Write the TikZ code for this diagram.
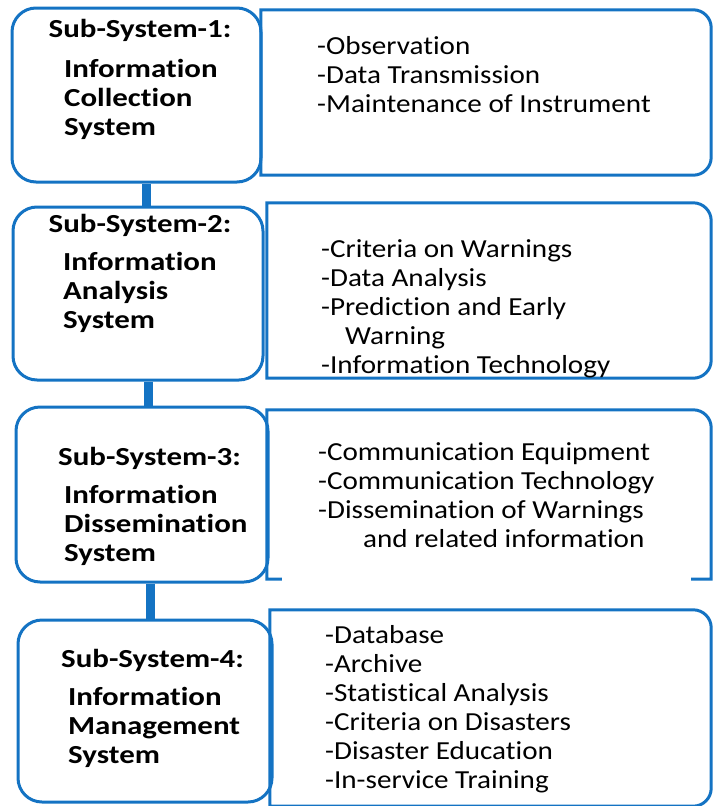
\documentclass[tikz,border=0pt]{standalone}
\usepackage{fontspec}
\setmainfont{Carlito}[Ligatures=NoCommon, FakeStretch=1.12, BoldFeatures={FakeStretch=1.19}]
\usepackage{tikz}
\usetikzlibrary{positioning,calc}
\definecolor{SysBlue}{RGB}{20,115,195}

\begin{document}
\begin{tikzpicture}[x=1pt, y=-1pt,
    sysbox/.style={draw=SysBlue, line width=3pt, rounded corners=24pt, inner sep=0pt},
    listbox/.style={inner sep=0pt},
    edge/.style={draw=SysBlue, line width=3pt},
    link/.style={draw=SysBlue, line width=9pt},
    systitle/.style={anchor=base, inner sep=0pt, font=\fontsize{26}{29}\selectfont\bfseries},
    sysname/.style={anchor=base west, inner sep=0pt, align=left, font=\fontsize{26}{29}\selectfont\bfseries},
    items/.style={anchor=base west, inner sep=0pt, align=left, font=\fontsize{26}{29}\selectfont}]
    \useasboundingbox (0,0) rectangle (713,806);

    \node[sysbox, minimum width=249pt, minimum height=174pt] (ls1) at (136.5,95) {};
    \node[sysbox, minimum width=250pt, minimum height=173pt] (ls2) at (138,293.5) {};
    \node[sysbox, minimum width=252pt, minimum height=175pt] (ls3) at (142,494.5) {};
    \node[sysbox, minimum width=254pt, minimum height=182pt] (ls4) at (145,711) {};

    \node[listbox, minimum width=450pt, minimum height=165pt] (rs1) at (486,92.5) {};
    \node[listbox, minimum width=444pt, minimum height=175pt] (rs2) at (489,290.5) {};
    \node[listbox, minimum width=444pt, minimum height=169pt] (rs3) at (489,494.5) {};
    \node[listbox, minimum width=441pt, minimum height=196pt] (rs4) at (490.5,708) {};

    \draw[link] ([xshift=9.5pt]ls1.south) -- ([xshift=9.5pt]ls1.south |- ls2.north);
    \draw[link] ([xshift=10pt]ls2.south) -- ([xshift=10pt]ls2.south |- ls3.north);
    \draw[link] ([xshift=8pt]ls3.south) -- ([xshift=8pt]ls3.south |- ls4.north);

    \foreach \r in {rs1,rs2,rs4}
      \draw[edge] (\r.north west) [rounded corners=18pt] -- (\r.north east) -- (\r.south east) [sharp corners] -- (\r.south west) -- cycle;
    \draw[edge] ([xshift=15pt]rs3.south west) -- (rs3.south west) -- (rs3.north west) [rounded corners=18pt] -- (rs3.north east) [sharp corners] -- (rs3.south east) -- ([xshift=-20pt]rs3.south east);

    \node[systitle] (t1) at (140,37) {Sub-System-1:};
    \node[systitle] (t2) at (140,232) {Sub-System-2:};
    \node[systitle] (t3) at (149.5,465) {Sub-System-3:};
    \node[systitle] (t4) at (152.5,667) {Sub-System-4:};

    \node[sysname] (n1) at (64,135) {Information\\Collection\\System};
    \node[sysname] (n2) at (63,328) {Information\\Analysis\\System};
    \node[sysname] (n3) at (64,561) {Information\\Dissemination\\System};
    \node[sysname] (n4) at (68,763) {Information\\Management\\System};

    \node[items] (i1) at (317,112) {-Observation\\-Data Transmission\\-Maintenance of Instrument};
    \node[items] (i2) at (321,373) {-Criteria on Warnings\\-Data Analysis\\-Prediction and Early\\\hspace*{24pt}Warning\\-Information Technology};
    \node[items] (i3) at (318,547) {-Communication Equipment\\-Communication Technology\\-Dissemination of Warnings\\\hspace*{45pt}and related information};
    \node[items] (i4) at (325,788) {-Database\\-Archive\\-Statistical Analysis\\-Criteria on Disasters\\-Disaster Education\\-In-service Training};
\end{tikzpicture}
\end{document}
